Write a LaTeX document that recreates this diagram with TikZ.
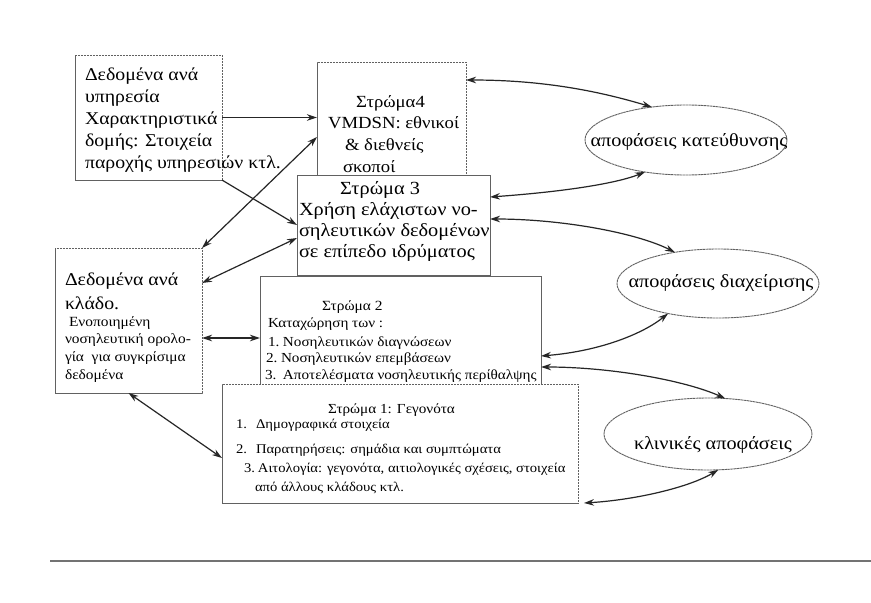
\documentclass[tikz,border=0pt]{standalone}
\usepackage{fontspec}
\setmainfont[FakeStretch=1.1]{Liberation Serif}
\usetikzlibrary{arrows.meta,shapes.geometric}
\newcommand{\mylines}[1]{\begin{tabular}[t]{@{}l@{}}#1\end{tabular}}
\newcommand{\myfs}[2]{\fontsize{#1}{#2}\selectfont}
\begin{document}
\begin{tikzpicture}[x=1pt,y=-1pt,
  box/.style={draw=black!62, line width=0.9pt, fill=white, inner sep=0pt, outer sep=0pt},
  scanbox/.style={box, draw=black!62, dash pattern=on 2.5pt off 0.5pt},
  ell/.style={ellipse, draw=black!62, line width=0.9pt, dash pattern=on 2.5pt off 0.5pt, inner sep=0pt, outer sep=0pt},
  conn/.style={line width=1.2pt, black!85},
  txt/.style={inner sep=0pt, outer sep=0pt, anchor=base west},
  ctxt/.style={inner sep=0pt, outer sep=0pt, anchor=base},
  >={Stealth[length=10pt,width=6.5pt]}]
\useasboundingbox[fill=white] (0,0) rectangle (871,603);

% boxes
\node[scanbox, minimum width=147pt, minimum height=125pt] (boxA) at (148.5,117.5) {};
\node[scanbox, minimum width=149pt, minimum height=113pt] (L4) at (391.5,118.5) {};
\node[box, minimum width=193pt, minimum height=100pt] (L3) at (393.5,225) {};
\node[scanbox, minimum width=147pt, minimum height=145pt] (boxB) at (128.5,320.5) {};
\node[box, minimum width=281pt, minimum height=108pt] (L2) at (400.5,330) {};
\node[scanbox, minimum width=356pt, minimum height=119pt] (L1) at (400,443.5) {};
\node[ell, minimum width=202pt, minimum height=70pt] (E1) at (686,140) {};
\node[ell, minimum width=202pt, minimum height=69pt] (E2) at (718,283.5) {};
\node[ell, minimum width=208pt, minimum height=72pt] (E3) at (708,434) {};

% texts
\node[txt, font={\myfs{18}{22}}] (tA) at (85,80)
  {\mylines{Δεδομένα ανά\\υπηρεσία\\Χαρακτηριστικά\\δομής: Στοιχεία\\παροχής υπηρεσιών κτλ.}};
\node[txt, font={\myfs{17}{21.7}}] (t4) at (328,107)
  {\mylines{\hspace*{28pt}Στρώμα4\\VMDSN: εθνικοί\\\hspace*{17pt}\& διεθνείς\\\hspace*{15pt}σκοποί}};
\node[txt, font={\myfs{18.5}{21.3}}] (t3) at (299,194)
  {\mylines{\hspace*{41pt}Στρώμα 3\\Χρήση ελάχιστων νο-\\σηλευτικών δεδομένων\\σε επίπεδο ιδρύματος}};
\node[txt, font={\myfs{18}{24}}] (tB1) at (65,285)
  {\mylines{Δεδομένα ανά\\κλάδο.}};
\node[txt, font={\myfs{14}{17.7}}] (tB2) at (65,326)
  {\mylines{\hspace*{4pt}Ενοποιημένη\\νοσηλευτική ορολο-\\γία\ \ για συγκρίσιμα\\δεδομένα}};

\node[txt, font={\myfs{14}{17}}] (l2a) at (322,310) {Στρώμα 2};
\node[txt, font={\myfs{13.8}{17}}] (l2b) at (268,327) {Καταχώρηση των :};
\node[txt, font={\myfs{13.8}{17}}] (l2c) at (268,346) {\makebox[15pt][l]{1.}Νοσηλευτικών διαγνώσεων};
\node[txt, font={\myfs{13.8}{17}}] (l2d) at (266,362) {\makebox[15pt][l]{2.}Νοσηλευτικών επεμβάσεων};
\node[txt, font={\myfs{13.8}{17}}] (l2e) at (265,379) {\makebox[18pt][l]{3.}Αποτελέσματα νοσηλευτικής περίθαλψης};

\node[txt, font={\myfs{13.8}{17}}] (l1a) at (328,413) {Στρώμα 1: Γεγονότα};
\node[txt, font={\myfs{13.3}{17}}] (l1b) at (236,428) {\makebox[20pt][l]{1.}Δημογραφικά στοιχεία};
\node[txt, font={\myfs{13.3}{17}}] (l1c) at (236,453) {\makebox[20pt][l]{2.}Παρατηρήσεις: σημάδια και συμπτώματα};
\node[txt, font={\myfs{13.3}{17}}] (l1d) at (244,472) {\makebox[14pt][l]{3.}Αιτολογία: γεγονότα, αιτιολογικές σχέσεις, στοιχεία};
\node[txt, font={\myfs{13.3}{17}}] (l1e) at (255,491) {από άλλους κλάδους κτλ.};

\node[ctxt, font={\myfs{18.4}{20}}] (tE1) at (689,146) {αποφάσεις κατεύθυνσης};
\node[ctxt, font={\myfs{18.4}{20}}] (tE2) at (721,287) {αποφάσεις διαχείρισης};
\node[ctxt, font={\myfs{18.4}{20}}] (tE3) at (713,449) {κλινικές αποφάσεις};

% connectors
\draw[conn,->] (boxA.east) -- (boxA.east -| L4.west);
\draw[conn,->] (boxA.south east) -- (L3.west);
\draw[conn,<->] ([yshift=38pt]L4.south west) -- (boxB.north east);
\draw[conn,<->] ([yshift=-13pt]L3.west) -- ([yshift=-35pt]boxB.north east);
\draw[conn,<->] ([yshift=-17.5pt]boxB.east) -- ([yshift=-17.5pt]boxB.east -| L2.west);
\draw[conn,<->] (boxB.south) -- ([yshift=-14.5pt]L1.west);
\draw[conn,<->] ([yshift=-18pt]L4.north east) .. controls +(80,0) and +(-50,-15) .. (E1.136);
\draw[conn,<->] (E1.218) .. controls +(-30,12) and +(70,-5) .. ([yshift=-22pt]L3.north east);
\draw[conn,<->] ([yshift=-44pt]L3.north east) .. controls +(70,0) and +(-40,-20) .. (E2.144);
\draw[conn,<->] (E2.211) .. controls +(-25,20) and +(60,-5) .. ([yshift=-80pt]L2.north east);
\draw[conn,<->] ([yshift=-91pt]L2.north east) .. controls +(70,0) and +(-40,-18) .. (E3.64);
\draw[conn,<->] (E3.286) .. controls +(-30,18) and +(50,-3) .. ([xshift=6pt]L1.south east);

% bottom rule
\draw[line width=1.6pt, black!55] (50,561) -- (871,561);
\end{tikzpicture}
\end{document}
